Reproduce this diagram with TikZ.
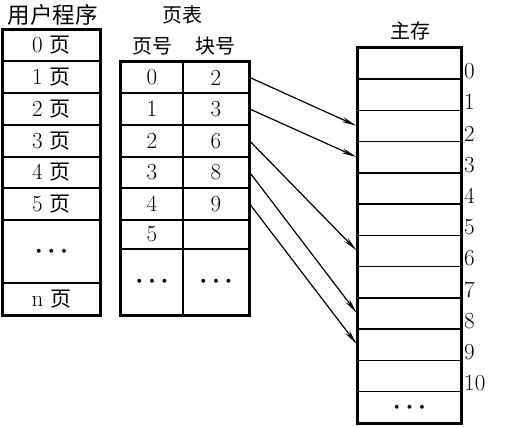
\documentclass[tikz,border=0pt]{standalone}
\usepackage{fontspec}
\usepackage{bm}
\newfontfamily\cjk{Noto Sans CJK SC}
\usetikzlibrary{arrows.meta}
\newcommand{\hdots}{$\bm{\cdots}$}
\newcommand{\pg}{{\cjk\fontsize{21}{25}\selectfont 页}}
\begin{document}
\begin{tikzpicture}[x=1pt,y=-1pt,
  cell/.style={draw, line width=1.5pt, inner sep=0pt, font=\fontsize{23}{27}\selectfont},
  frame/.style={draw, line width=3pt},
  title/.style={inner sep=0pt, font=\fontsize{20}{24}\selectfont\cjk},
  idx/.style={inner sep=0pt, anchor=west, font=\fontsize{23}{27}\selectfont},
  map/.style={line width=1.2pt, -{Stealth[length=15pt,width=5pt]}, shorten >=1pt}]
\useasboundingbox (0,0) rectangle (514,427);
% titles
\node[title, font=\fontsize{22.5}{26}\selectfont\cjk] (tu) at (53,15) {用户程序};
\node[title] (tp) at (182,15) {页表};
\node[title] (tpa) at (152,46) {页号};
\node[title] (tpb) at (215,46) {块号};
\node[title] (tm) at (410,31) {主存};
% user program
\tikzset{ucol/.style={cell, minimum width=97pt}}
\node[ucol, minimum height=31pt] (u0) at (51.5,45.5) {0 \pg};
\node[ucol, minimum height=32pt] (u1) at (51.5,77) {1 \pg};
\node[ucol, minimum height=32pt] (u2) at (51.5,109) {2 \pg};
\node[ucol, minimum height=32pt] (u3) at (51.5,141) {3 \pg};
\node[ucol, minimum height=31pt] (u4) at (51.5,172.5) {4 \pg};
\node[ucol, minimum height=32pt] (u5) at (51.5,204) {5 \pg};
\node[ucol, minimum height=63pt] (ud) at (51.5,251.5) {\hdots};
\node[ucol, minimum height=32pt] (un) at (51.5,299) {n \pg};
\draw[frame] (u0.north west) rectangle (un.south east);
% page table
\tikzset{pa/.style={cell, minimum width=62pt}, pb/.style={cell, minimum width=66pt}}
\node[pa, minimum height=31pt] (p0a) at (152,77.5) {0};
\node[pb, minimum height=31pt] (p0b) at (216,77.5) {2};
\node[pa, minimum height=32pt] (p1a) at (152,109) {1};
\node[pb, minimum height=32pt] (p1b) at (216,109) {3};
\node[pa, minimum height=32pt] (p2a) at (152,141) {2};
\node[pb, minimum height=32pt] (p2b) at (216,141) {6};
\node[pa, minimum height=31pt] (p3a) at (152,172.5) {3};
\node[pb, minimum height=31pt] (p3b) at (216,172.5) {8};
\node[pa, minimum height=32pt] (p4a) at (152,204) {4};
\node[pb, minimum height=32pt] (p4b) at (216,204) {9};
\node[pa, minimum height=29pt] (p5a) at (152,234.5) {5};
\node[pb, minimum height=29pt] (p5b) at (216,234.5) {};
\node[pa, minimum height=66pt] (pda) at (152,282) {\hdots};
\node[pb, minimum height=66pt] (pdb) at (216,282) {\hdots};
\draw[frame] (p0a.north west) rectangle (pdb.south east);
% main memory
\foreach \k in {0,...,10}{
  \node[cell, minimum width=103pt, minimum height=31.25pt] (m\k) at (409.5,{63.625+31.25*\k}) {};
  \node[idx] (l\k) at (464,{71+31.25*\k}) {\k};
}
\node[cell, minimum width=103pt, minimum height=31.25pt] (m11) at (409.5,{63.625+31.25*11}) {\hdots};
\draw[frame] (m0.north west) rectangle (m11.south east);
% mapping arrows
\draw[map] (p0b.east) -- (m2.west);
\draw[map] (p1b.east) -- (m3.west);
\draw[map] (p2b.east) -- (m6.west);
\draw[map] (p3b.east) -- (m8.west);
\draw[map] (p4b.east) -- (m9.west);
\end{tikzpicture}
\end{document}
